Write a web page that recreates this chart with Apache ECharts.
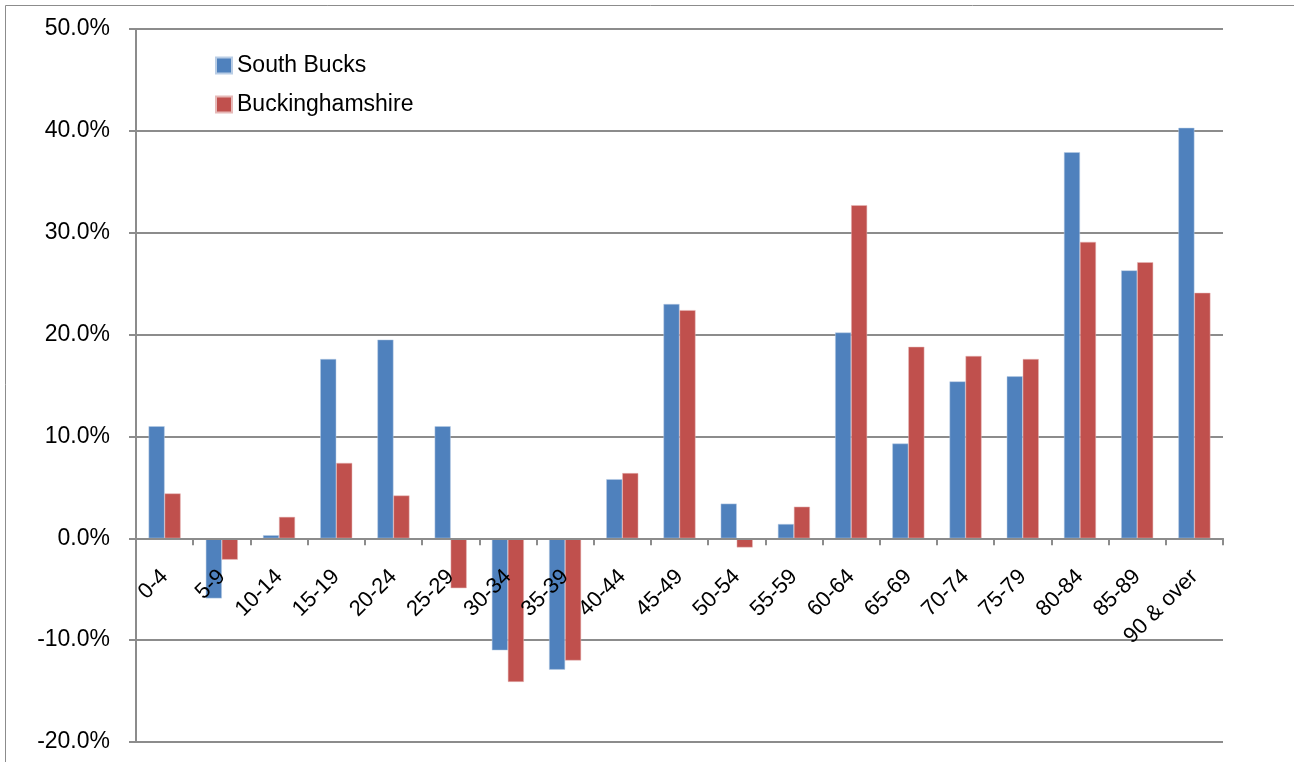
<!DOCTYPE html>
<html>
<head>
<meta charset="utf-8">
<script src="https://cdn.jsdelivr.net/npm/echarts@6/dist/echarts.min.js"></script>
<style>
html,body{margin:0;padding:0;background:#fff;}
#chart{width:1294px;height:762px;}
</style>
</head>
<body>
<div id="chart"></div>
<script>
const categories = ['0-4','5-9','10-14','15-19','20-24','25-29','30-34','35-39','40-44','45-49','50-54','55-59','60-64','65-69','70-74','75-79','80-84','85-89','90 & over'];
const southBucks = [11.0,-5.9,0.3,17.6,19.5,11.0,-11.0,-12.9,5.8,23.0,3.4,1.4,20.2,9.3,15.4,15.9,37.9,26.3,40.3];
const buckinghamshire = [4.4,-2.1,2.1,7.4,4.2,-4.9,-14.1,-12.0,6.4,22.4,-0.9,3.1,32.7,18.8,17.9,17.6,29.1,27.1,24.1];
const yTicks = {min:-20, max:50, interval:10};

const FONT = 'Liberation Sans';
const chart = echarts.init(document.getElementById('chart'), null, {renderer:'canvas'});
chart.setOption({
  animation:false,
  backgroundColor:'#fff',
  textStyle:{fontFamily:FONT},
  graphic:[{type:'rect', shape:{x:5.5,y:5.5,width:1400,height:900}, style:{fill:'none', stroke:'#8c8c8c', lineWidth:1}, silent:true}],
  legend:{
    orient:'vertical', left:215, top:54, padding:0, itemWidth:16, itemHeight:16, itemGap:16,
    icon:'rect',
    textStyle:{fontFamily:FONT, fontSize:23, color:'#000'},
    data:['South Bucks','Buckinghamshire']
  },
  grid:{left:136, right:71, top:29, bottom:20, containLabel:false, outerBoundsMode:'none'},
  xAxis:{
    type:'category', data:categories, boundaryGap:true, z:10,
    axisLine:{onZero:false, lineStyle:{color:'#8c8c8c', width:2}},
    axisTick:{show:true, alignWithLabel:false, length:7, inside:false, lineStyle:{color:'#8c8c8c', width:2}},
    axisLabel:{rotate:45, interval:0, margin:35, fontFamily:FONT, fontSize:22, color:'#000', hideOverlap:false},
    splitLine:{show:false}
  },
  yAxis:{
    type:'value', min:yTicks.min, max:yTicks.max, interval:yTicks.interval,
    axisLine:{show:true, lineStyle:{color:'#8c8c8c', width:2}},
    axisTick:{show:true, length:7, lineStyle:{color:'#8c8c8c', width:2}},
    axisLabel:{margin:26, fontFamily:FONT, fontSize:23, color:'#000', formatter:v=>v.toFixed(1)+'%'},
    splitLine:{show:true, lineStyle:{color:'#8c8c8c', width:2}}
  },
  series:[
    {name:'South Bucks', type:'bar', data:southBucks, barWidth:16, barGap:'0%',
     itemStyle:{color:'#4f81bd', borderColor:'#b9cde5', borderWidth:0.5}},
    {name:'Buckinghamshire', type:'bar', data:buckinghamshire, barWidth:16, barGap:'0%',
     itemStyle:{color:'#c0504d', borderColor:'#e6b9b8', borderWidth:0.5}}
  ]
});
// place the category axis on the zero line of the value axis
const yZero = chart.convertToPixel({yAxisIndex:0}, 0);
const yBottom = chart.convertToPixel({yAxisIndex:0}, yTicks.min);
chart.setOption({xAxis:{offset: yZero - yBottom}});
</script>
</body>
</html>
